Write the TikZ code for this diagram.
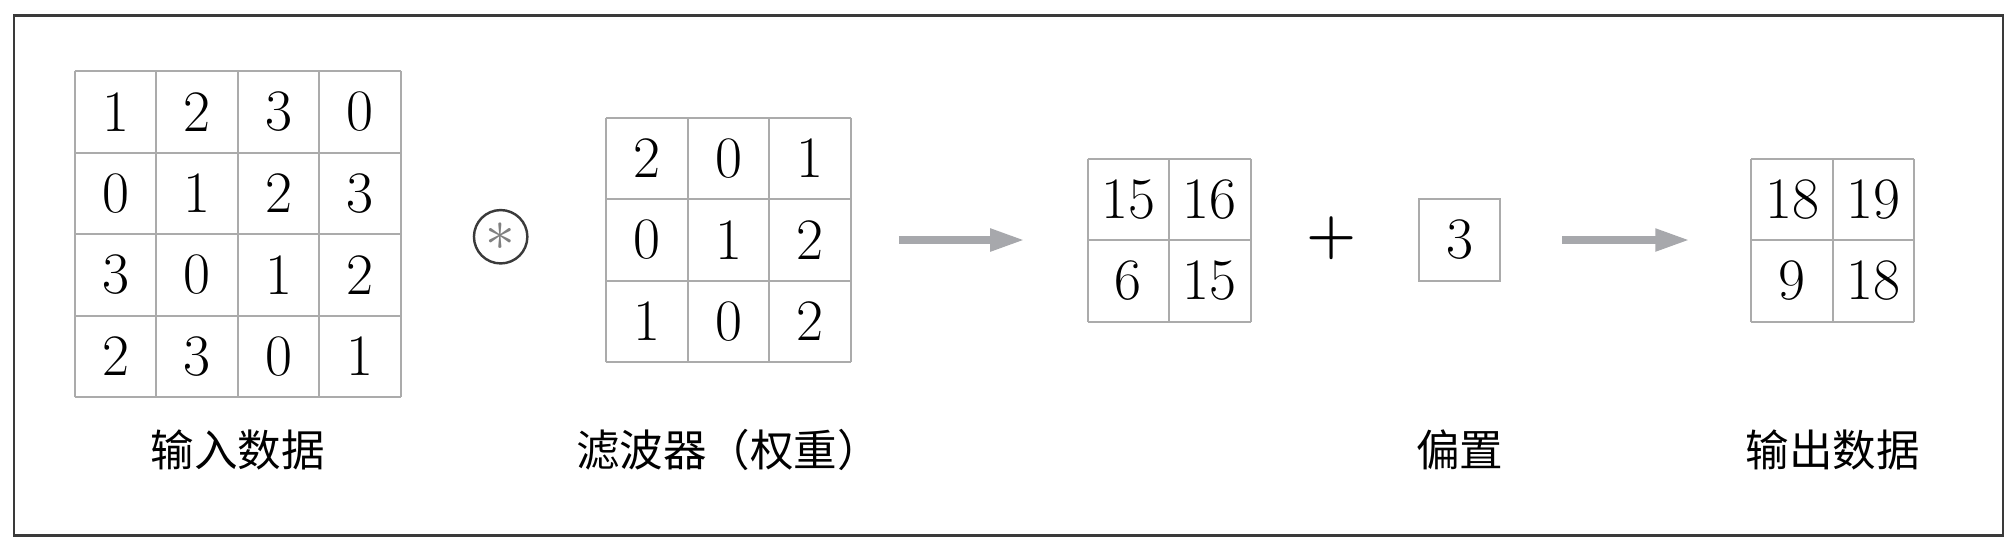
\documentclass[tikz,border=0pt]{standalone}
\usepackage{fontspec}
\usepackage{tikz}
\usetikzlibrary{arrows.meta}
\newfontfamily\cjk{Noto Sans CJK SC}
\definecolor{CellGray}{HTML}{ABABAB}
\definecolor{ArrowGray}{HTML}{A7A8AC}
\definecolor{FrameGray}{HTML}{3A3A3A}

\begin{document}
\begin{tikzpicture}[
    cell/.style={draw=CellGray, line width=0.7pt},
    block/.style={minimum size=#1, inner sep=0pt, outer sep=0pt},
    num/.style={font=\fontsize{20.5}{24}\selectfont, inner sep=0pt},
    lbl/.style={font=\cjk\fontsize{15.2}{18}\selectfont, inner sep=0pt},
    flow/.style={ArrowGray, line width=3.1pt, -{Triangle[length=0.44cm, width=0.25cm]}}
]
    \useasboundingbox (0,-3.791) rectangle (24.687,2.945);
    \draw[FrameGray, line width=0.85pt] (0.172,-3.626) rectangle (24.577,2.755);

%   input data
    \node[block=4cm] (input) at (2.92,0.07) {};
    \begin{scope}[shift={(input.south west)}]
        \draw[cell] (0,0) grid (4,4);
        \foreach \row [count=\r] in {{1,2,3,0},{0,1,2,3},{3,0,1,2},{2,3,0,1}}
            \foreach \v [count=\c] in \row
                \node[num] (in-\r-\c) at (\c-0.5,4.5-\r) {\v};
    \end{scope}

%   convolution sign
    \node[circle, draw=FrameGray, line width=0.85pt, minimum size=0.655cm, inner sep=0pt,
          text=gray, font=\fontsize{21}{24}\selectfont] (conv) at (6.143,0.04) {$\ast$};

%   filter
    \node[block=3cm] (filter) at (8.94,0) {};
    \begin{scope}[shift={(filter.south west)}]
        \draw[cell] (0,0) grid (3,3);
        \foreach \row [count=\r] in {{2,0,1},{0,1,2},{1,0,2}}
            \foreach \v [count=\c] in \row
                \node[num] (fl-\r-\c) at (\c-0.5,3.5-\r) {\v};
    \end{scope}

%   result of the convolution
    \node[block=2cm] (sum) at (14.344,0) {};
    \begin{scope}[shift={(sum.south west)}]
        \draw[cell] (0,0) grid (2,2);
        \foreach \row [count=\r] in {{15,16},{6,15}}
            \foreach \v [count=\c] in \row
                \node[num] (sm-\r-\c) at (\c-0.5,2.5-\r) {\v};
    \end{scope}

%   bias
    \node[font=\fontsize{20}{22}\selectfont\bfseries, inner sep=0pt] (plus) at (16.34,0.02) {+};
    \node[cell, num, block=1cm] (bias) at (17.91,0) {3};

%   output data
    \node[block=2cm] (output) at (22.49,0) {};
    \begin{scope}[shift={(output.south west)}]
        \draw[cell] (0,0) grid (2,2);
        \foreach \row [count=\r] in {{18,19},{9,18}}
            \foreach \v [count=\c] in \row
                \node[num] (out-\r-\c) at (\c-0.5,2.5-\r) {\v};
    \end{scope}

    \draw[flow] ([xshift=0.59cm]filter.east) -- ([xshift=-0.754cm]sum.west);
    \draw[flow] ([xshift=0.76cm]bias.east) -- ([xshift=-0.74cm]output.west);

    \node[lbl] (inlbl) at (input |- 0,-2.58) {输入数据};
    \node[lbl] (fllbl) at (filter |- 0,-2.58) {滤波器（权重）};
    \node[lbl] (bslbl) at (bias |- 0,-2.58) {偏置};
    \node[lbl] (outlbl) at (output |- 0,-2.58) {输出数据};
\end{tikzpicture}
\end{document}
